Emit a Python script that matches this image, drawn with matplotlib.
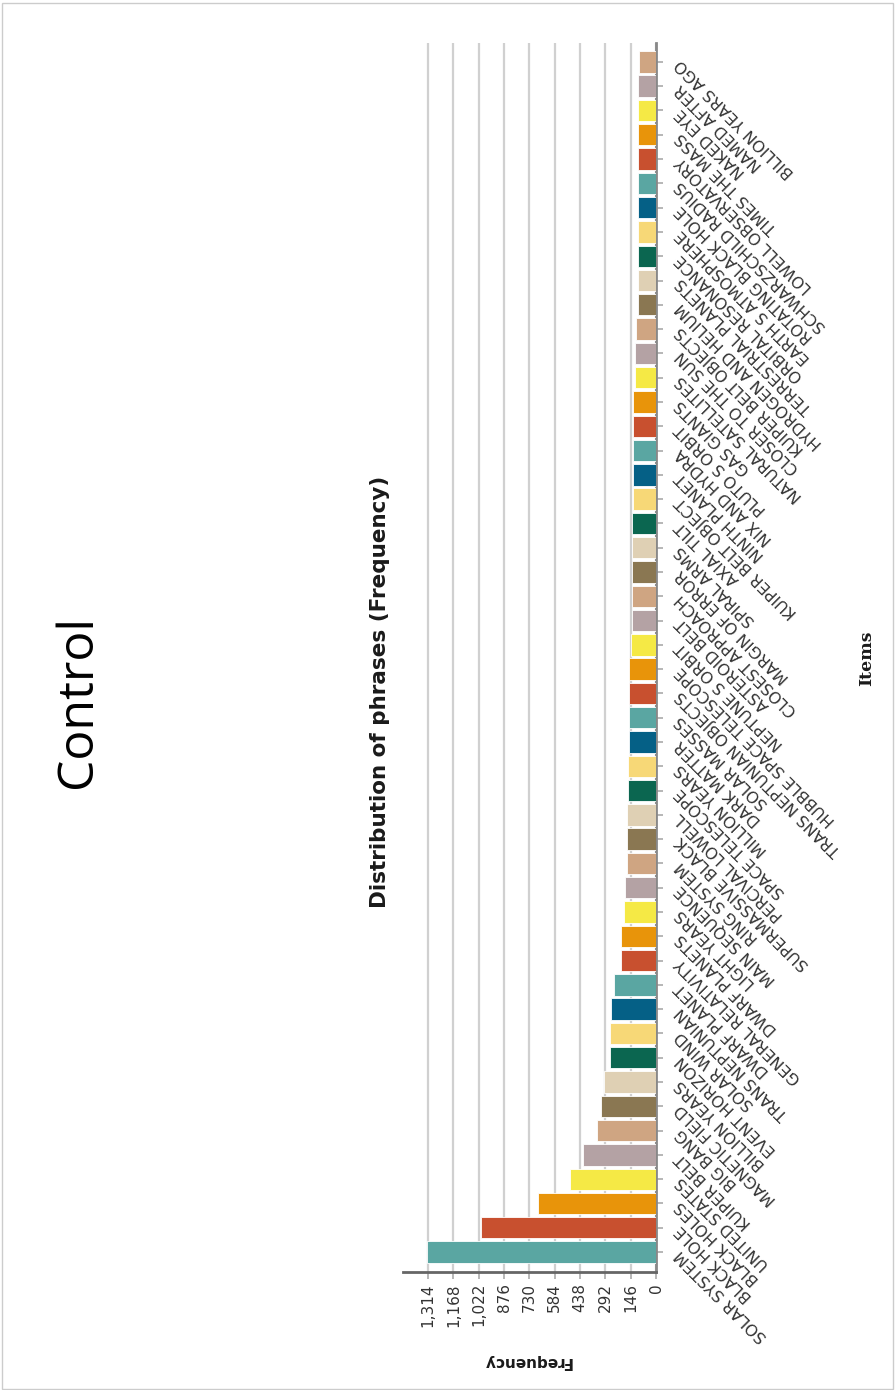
import numpy as np
import matplotlib
matplotlib.use('Agg')
import matplotlib.pyplot as plt
from matplotlib.patches import Rectangle

# phrases and how often they occur (bar 0 = most frequent, drawn at the bottom)
items = ["SOLAR SYSTEM", "BLACK HOLE", "BLACK HOLES", "UNITED STATES", "KUIPER BELT",
         "BIG BANG", "MAGNETIC FIELD", "BILLION YEARS", "EVENT HORIZON", "SOLAR WIND",
         "TRANS NEPTUNIAN", "DWARF PLANET", "GENERAL RELATIVITY", "DWARF PLANETS", "LIGHT YEARS",
         "MAIN SEQUENCE", "RING SYSTEM", "SUPERMASSIVE BLACK", "PERCIVAL LOWELL", "SPACE TELESCOPE",
         "MILLION YEARS", "DARK MATTER", "SOLAR MASSES", "TRANS NEPTUNIAN OBJECTS", "HUBBLE SPACE TELESCOPE",
         "NEPTUNE S ORBIT", "ASTEROID BELT", "CLOSEST APPROACH", "MARGIN OF ERROR", "SPIRAL ARMS",
         "AXIAL TILT", "KUIPER BELT OBJECT", "NINTH PLANET", "NIX AND HYDRA", "PLUTO S ORBIT",
         "GAS GIANTS", "NATURAL SATELLITES", "CLOSER TO THE SUN", "KUIPER BELT OBJECTS", "HYDROGEN AND HELIUM",
         "TERRESTRIAL PLANETS", "ORBITAL RESONANCE", "EARTH S ATMOSPHERE", "ROTATING BLACK HOLE", "SCHWARZSCHILD RADIUS",
         "LOWELL OBSERVATORY", "TIMES THE MASS", "NAKED EYE", "NAMED AFTER", "BILLION YEARS AGO"]
freq = [1322, 1009, 680, 496, 419,
        342, 317, 298, 267, 267,
        259, 242, 200, 200, 186,
        179, 169, 169, 169, 161,
        161, 154, 154, 154, 154,
        144, 140, 140, 140, 140,
        140, 134, 131, 131, 131,
        131, 121, 121, 115, 104,
        104, 104, 104, 104, 104,
        104, 104, 104, 104, 96]
palette = ["#5aa6a2", "#c8502f", "#e8940a", "#f5e945", "#b4a2a4", "#cfa582",
           "#8a7752", "#dfd0b4", "#0b6650", "#f7d877", "#056086"]
freq_ticks = [0, 146, 292, 438, 584, 730, 876, 1022, 1168, 1314]

colors = [palette[i % len(palette)] for i in range(len(items))]
pos = np.arange(len(items))

fig = plt.figure(figsize=(8.96, 13.9), dpi=100)
fig.patches.append(Rectangle((0.002, 0.001), 0.995, 0.997, transform=fig.transFigure,
                             fill=False, edgecolor='#cccccc', lw=1))

ax = fig.add_axes([0.4498, 0.0849, 0.2824, 0.8842])
ax.barh(pos, freq, height=0.88, color=colors, edgecolor='white', linewidth=0.6, zorder=3)
ax.set_xlim(1458, 0)
ax.set_ylim(-0.82, len(items) - 0.22)

ax.set_xticks(freq_ticks)
ax.set_xticklabels(['{:,}'.format(t) for t in freq_ticks], rotation=90, va='top', ha='center',
                   fontsize=11, color='#333333')
ax.xaxis.grid(True, color='#d0d0d0', lw=1.6, zorder=0)
ax.tick_params(axis='x', length=5, width=1.2, color='#aaaaaa', pad=3)

ax.yaxis.tick_right()
ax.set_yticks(pos)
ax.set_yticklabels(items, rotation=135, ha='right', va='center', rotation_mode='anchor',
                   fontsize=11.5, color='#333333')
ax.tick_params(axis='y', length=5, width=1.2, color='#aaaaaa', pad=11)

for s in ['left', 'top']:
    ax.spines[s].set_visible(False)
ax.spines['bottom'].set_color('#666666')
ax.spines['bottom'].set_linewidth(2)
ax.spines['right'].set_color('#888888')
ax.spines['right'].set_linewidth(2)

fig.text(78 / 896, 1 - 701 / 1390, 'Control', rotation=90, ha='center', va='center',
         fontsize=36, family='Open Sans')
fig.text(380 / 896, 1 - 692 / 1390, 'Distribution of phrases (Frequency)', rotation=90,
         ha='center', va='center', fontsize=15.5, fontweight='bold', color='#1a1a1a')
fig.text(527 / 896, 1 - 1362 / 1390, 'Frequency', rotation=180, ha='center', va='center',
         fontsize=11, fontweight='bold', color='#1a1a1a')
fig.text(867 / 896, 1 - 658 / 1390, 'Items', rotation=90, ha='center', va='center',
         fontsize=12.5, fontweight='bold', family='DejaVu Serif', color='#1a1a1a')

plt.savefig('out.png', dpi=100)
